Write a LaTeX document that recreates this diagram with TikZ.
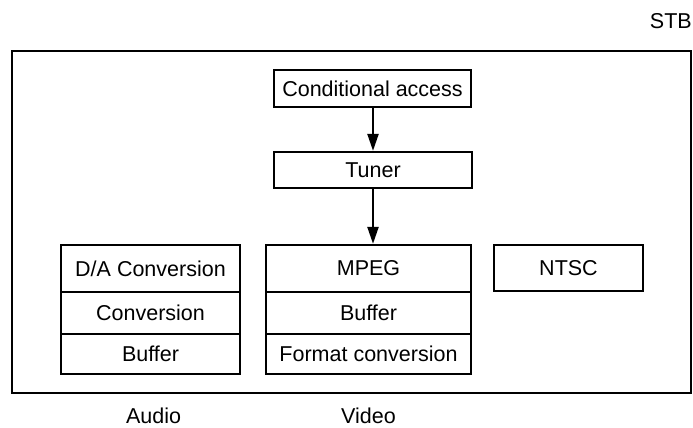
\documentclass[tikz,border=0pt]{standalone}
\usepackage{fontspec}
\setmainfont{Liberation Sans}
\usetikzlibrary{arrows.meta}
\begin{document}
\begin{tikzpicture}[x=1pt,y=-1pt,
  every node/.style={font=\fontsize{21.5}{24}\selectfont},
  blk/.style={draw,line width=2.3pt,rectangle,inner sep=0pt,anchor=center},
  lbl/.style={inner sep=0pt,anchor=center},
  arr/.style={line width=2.3pt,-{Triangle[length=17pt,width=11pt]}}]
\useasboundingbox (0,0) rectangle (693,428);
\node[lbl,anchor=east] (stb) at (692,21) {STB};
\node[draw,line width=2.8pt,inner sep=0pt,minimum width=679pt,minimum height=342pt] (stbbox) at (351.5,222) {};
\node[blk,minimum width=197pt,minimum height=37pt] (ca) at (372.5,88.5) {Conditional access};
\node[blk,minimum width=198pt,minimum height=36pt] (tuner) at (373,170) {Tuner};
% audio stack
\node[blk,minimum width=179pt,minimum height=47pt] (da) at (150.5,268.5) {D/A Conversion};
\node[blk,minimum width=179pt,minimum height=42pt] (conv) at (150.5,313) {Conversion};
\node[blk,minimum width=179pt,minimum height=40pt] (abuf) at (150.5,354) {Buffer};
% video stack
\node[blk,minimum width=205pt,minimum height=47pt] (mpeg) at (368.5,268.5) {MPEG};
\node[blk,minimum width=205pt,minimum height=42pt] (vbuf) at (368.5,313) {Buffer};
\node[blk,minimum width=205pt,minimum height=40pt] (fmt) at (368.5,354) {Format conversion};
% NTSC
\node[blk,minimum width=149pt,minimum height=46pt] (ntsc) at (568.5,268) {NTSC};
% labels
\node[lbl] (audio) at (153.5,416) {Audio};
\node[lbl] (video) at (368.5,416) {Video};
% arrows
\draw[arr] (ca.south -| tuner.north) -- (tuner.north);
\draw[arr] (tuner.south) -- (tuner.south |- mpeg.north);
\end{tikzpicture}
\end{document}
